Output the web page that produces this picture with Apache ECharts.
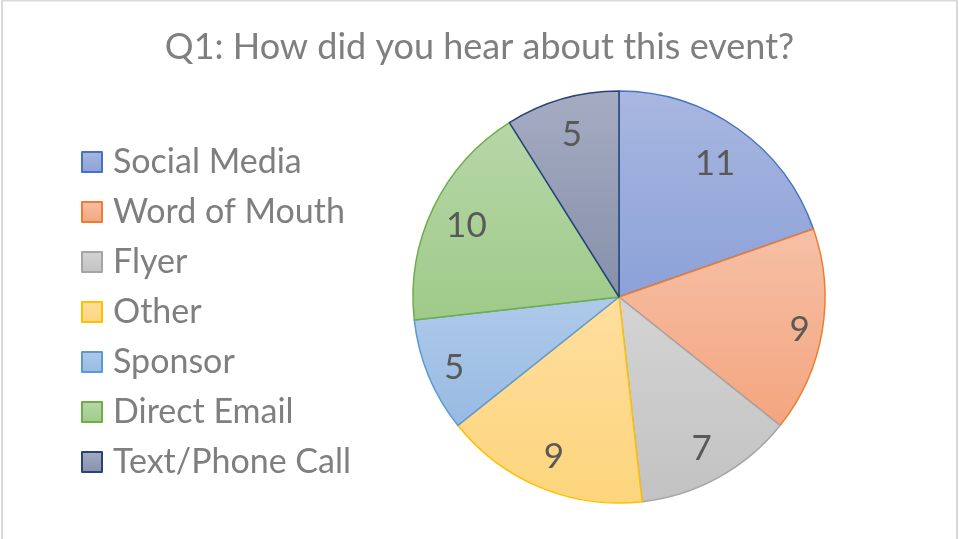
<!DOCTYPE html>
<html>
<head>
<meta charset="utf-8">
<script src="https://cdn.jsdelivr.net/npm/echarts@6/dist/echarts.min.js"></script>
<style>
  html, body { margin: 0; padding: 0; background: #fff; }
  #chart { width: 959px; height: 539px; }
</style>
</head>
<body>
<div id="chart"></div>
<script>
// survey answers, clockwise from 12 o'clock
const categories = ['Social Media', 'Word of Mouth', 'Flyer', 'Other', 'Sponsor', 'Direct Email', 'Text/Phone Call'];
const counts = [11, 9, 7, 9, 5, 10, 5];

// slice styling (light top -> darker bottom, outline)
const topColors = ['#a9b7e0', '#f6c0a6', '#d4d4d4', '#ffde9f', '#aecaea', '#b6d7a8', '#a5acc2'];
const bottomColors = ['#8ba1d8', '#f4a57f', '#c2c2c2', '#fdd57c', '#98bae3', '#9fca89', '#8790ab'];
const borderColors = ['#4472c4', '#ed7d31', '#a5a5a5', '#ffc000', '#5b9bd5', '#70ad47', '#264478'];

const FONT = 'Lato, "Open Sans", sans-serif';
const R = 206;
const center = [619, 297];

function grad(i) {
  return new echarts.graphic.LinearGradient(0, 0, 0, 1, [
    { offset: 0, color: topColors[i] },
    { offset: 1, color: bottomColors[i] }
  ]);
}

// "best fit" style label placement: push each value label out towards the rim,
// keeping its box a fixed distance inside the edge
const total = counts.reduce((a, b) => a + b, 0);
function labelOffset(i) {
  let before = 0;
  for (let k = 0; k < i; k++) before += counts[k];
  const ang = (before + counts[i] / 2) / total * 2 * Math.PI; // clockwise from top
  const s = Math.sin(ang), c = Math.cos(ang);
  const halfW = 9 * String(counts[i]).length;
  const halfH = 24;
  const d = R * 0.937 - Math.abs(s) * halfW - Math.abs(c) * halfH;
  const move = d - R / 2; // 'inside' labels sit at half radius
  return [move * s, -move * c + 2];
}

const chart = echarts.init(document.getElementById('chart'));

chart.setOption({
  backgroundColor: '#fff',
  animation: false,
  graphic: [{
    type: 'rect',
    shape: { x: 2, y: 0.5, width: 955, height: 560 },
    style: { fill: 'none', stroke: '#d9d9d9', lineWidth: 2 },
    silent: true
  }],
  title: {
    text: 'Q1: How did you hear about this event?',
    left: 'center',
    top: 21,
    textStyle: {
      fontFamily: FONT,
      fontSize: 36,
      fontWeight: 'normal',
      color: '#7f7f7f',
      lineHeight: 42
    }
  },
  legend: {
    orient: 'vertical',
    left: 81,
    top: 142,
    padding: 0,
    icon: 'rect',
    itemWidth: 20,
    itemHeight: 20,
    itemGap: 10,
    data: categories.map((name, i) => ({
      name: name,
      itemStyle: { color: grad(i), borderColor: borderColors[i], borderWidth: 2 }
    })),
    textStyle: {
      fontFamily: FONT,
      fontSize: 34,
      color: '#7f7f7f',
      lineHeight: 40,
      padding: [0, 0, 0, 6]
    }
  },
  series: [
    {
      type: 'pie',
      center: center,
      radius: [0, R],
      startAngle: 90,
      clockwise: true,
      label: {
        show: true,
        position: 'inside',
        formatter: '{c}',
        fontFamily: FONT,
        fontSize: 35,
        color: '#595959'
      },
      labelLine: { show: false },
      emphasis: { disabled: true },
      data: categories.map((name, i) => ({
        name: name,
        value: counts[i],
        label: { offset: labelOffset(i) },
        itemStyle: { color: grad(i), borderColor: borderColors[i], borderWidth: 1.5 }
      }))
    }
  ]
});
</script>
</body>
</html>
